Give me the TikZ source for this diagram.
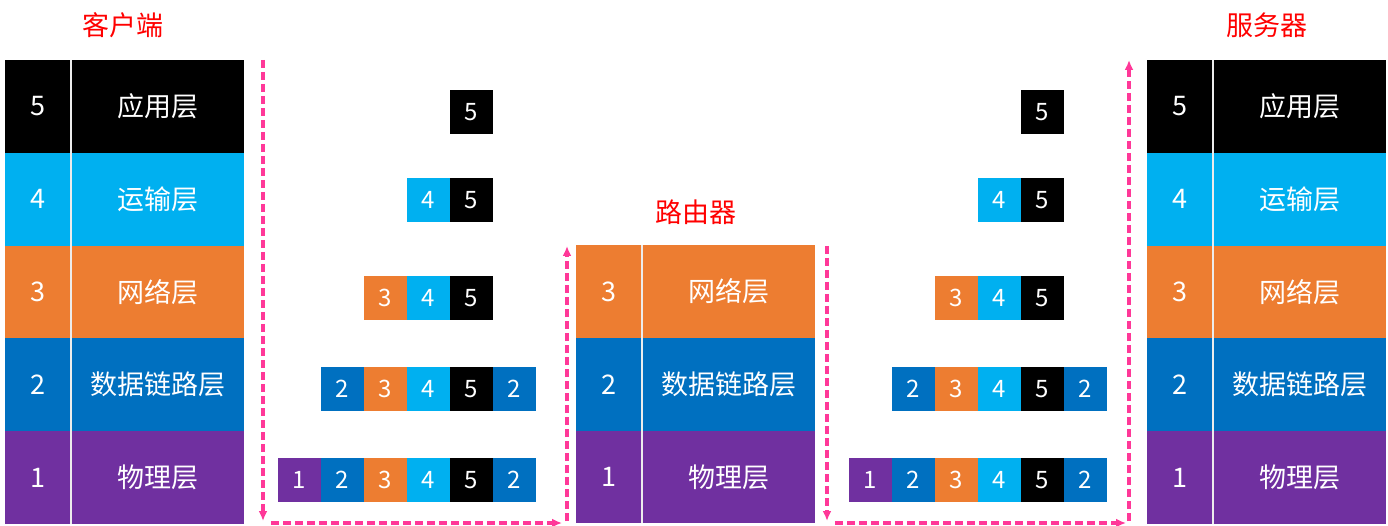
\documentclass[tikz,border=0pt]{standalone}
\usepackage{fontspec}
\setmainfont{Noto Sans CJK SC}
\usepackage{xcolor}
\definecolor{LayerBlack}{RGB}{0,0,0}
\definecolor{LayerCyan}{RGB}{0,176,240}
\definecolor{LayerOrange}{RGB}{237,125,49}
\definecolor{LayerBlue}{RGB}{0,112,192}
\definecolor{LayerPurple}{RGB}{112,48,160}
\definecolor{FlowPink}{RGB}{255,56,152}
\colorlet{L5}{LayerBlack}
\colorlet{L4}{LayerCyan}
\colorlet{L3}{LayerOrange}
\colorlet{L2}{LayerBlue}
\colorlet{L1}{LayerPurple}
\usetikzlibrary{arrows.meta, positioning, calc}

\begin{document}
\begin{tikzpicture}[x=1pt, y=-1pt,
	numcell/.style={anchor=north west, minimum width=66pt, minimum height=92.8pt,
		inner sep=0pt, outer sep=0pt, text=white, font=\fontsize{27}{31}\selectfont},
	namecell/.style={minimum width=173pt, minimum height=92.8pt,
		inner sep=0pt, outer sep=0pt, text=white, font=\fontsize{27}{31}\selectfont},
	pk/.style={minimum width=43pt, minimum height=44pt, inner sep=0pt, outer sep=0pt,
		text=white, font=\fontsize{24}{28}\selectfont},
	divider/.style={draw=white!85!gray, line width=1.6pt},
	title/.style={text=red, font=\fontsize{27}{31}\selectfont},
	flow/.style={draw=FlowPink, line width=3.2pt, dash pattern=on 8pt off 4pt,
		-{Latex[length=10pt, width=9pt]}}]
	\useasboundingbox (0,0) rectangle (1388,526);
	% client
	\begin{scope}
		\foreach \n/\name in {5/应用层,4/运输层,3/网络层,2/数据链路层,1/物理层}{
			\node[numcell, fill=L\n] (cn\n) at (5,{60+92.8*(5-\n)}) {\n};
			\node[namecell, fill=L\n, right=0pt of cn\n] (cl\n) {\name};
		}
		\draw[divider] (cn5.north east) -- (cn1.south east);
		\node[title] (ctitle) at (123,25) {客户端};
	\end{scope}
	% router
	\begin{scope}
		\foreach \n/\name in {3/网络层,2/数据链路层,1/物理层}{
			\node[numcell, fill=L\n] (rn\n) at (576,{245+92.8*(3-\n)}) {\n};
			\node[namecell, fill=L\n, right=0pt of rn\n] (rl\n) {\name};
		}
		\draw[divider] (rn3.north east) -- (rn1.south east);
		\node[title] (rtitle) at (696,212) {路由器};
	\end{scope}
	% server
	\begin{scope}
		\foreach \n/\name in {5/应用层,4/运输层,3/网络层,2/数据链路层,1/物理层}{
			\node[numcell, fill=L\n] (sn\n) at (1147,{60+92.8*(5-\n)}) {\n};
			\node[namecell, fill=L\n, right=0pt of sn\n] (sl\n) {\name};
		}
		\draw[divider] (sn5.north east) -- (sn1.south east);
		\node[title] (stitle) at (1267,25) {服务器};
	\end{scope}
	% packets
	\foreach \side/\dx in {a/0,b/571}{
		\foreach \r/\s/\y/\lst in {5/450/112/{5},4/407/200/{4,5},3/364/298/{3,4,5},
				2/321/389/{2,3,4,5,2},1/278/480/{1,2,3,4,5,2}}{
			\foreach \d [count=\k] in \lst{
				\node[pk, fill=L\d] (p\side\r\k) at ({\dx+\s+43*\k-21.5},\y) {\d};
			}
		}
	}
	% flow
	\coordinate (f1) at (263,60);
	\coordinate (f2) at (263,521);
	\coordinate (f3) at (271,523);
	\coordinate (f4) at (562,523);
	\coordinate (f5) at (567,521);
	\coordinate (f6) at (567,246);
	\coordinate (g1) at (827,246);
	\coordinate (g2) at (827,521);
	\coordinate (g3) at (835,523);
	\coordinate (g4) at (1126,523);
	\coordinate (g5) at (1129,521);
	\coordinate (g6) at (1129,60);
	\draw[flow] (f1) -- (f2);
	\draw[flow] (f3) -- (f4);
	\draw[flow] (f5) -- (f6);
	\draw[flow] (g1) -- (g2);
	\draw[flow] (g3) -- (g4);
	\draw[flow] (g5) -- (g6);
\end{tikzpicture}
\end{document}
